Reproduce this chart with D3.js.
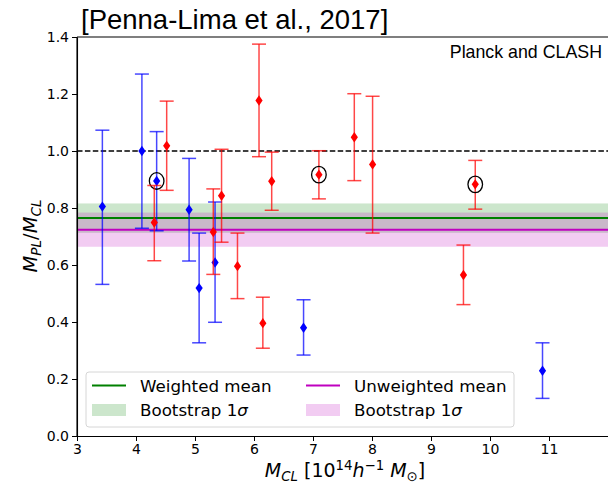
<!DOCTYPE html>
<html>
<head>
<meta charset="utf-8">
<script src="https://cdn.jsdelivr.net/npm/d3@7"></script>
<style>
  html, body { margin: 0; padding: 0; background: #fff; }
  svg { display: block; }
  .tick text { font-family: "DejaVu Sans", sans-serif; font-size: 14px; fill: #000; }
</style>
</head>
<body>
<svg id="chart" width="608" height="486"></svg>
<script>
// CLASH-based masses (blue)
const blueMass = [3.43, 4.10, 4.35, 4.90, 5.07, 5.34, 6.84, 10.89];
const blueRatio = [0.805, 1.000, 0.895, 0.794, 0.519, 0.609, 0.380, 0.229];
const blueLow = [0.532, 0.729, 0.720, 0.614, 0.327, 0.399, 0.284, 0.132];
const blueHigh = [1.073, 1.270, 1.068, 0.974, 0.712, 0.821, 0.478, 0.327];
const blueCircled = [false, false, true, false, false, false, false, false];

// Planck-based masses (red)
const redMass = [4.31, 4.52, 5.31, 5.45, 5.72, 6.085, 6.15, 6.30, 7.10, 7.70, 8.01, 9.55, 9.75];
const redRatio = [0.749, 1.018, 0.716, 0.843, 0.596, 1.177, 0.396, 0.894, 0.917, 1.048, 0.953, 0.565, 0.883];
const redLow = [0.615, 0.862, 0.567, 0.680, 0.482, 0.980, 0.308, 0.792, 0.832, 0.896, 0.712, 0.461, 0.796];
const redHigh = [0.879, 1.175, 0.867, 1.006, 0.712, 1.375, 0.487, 0.996, 1.001, 1.201, 1.192, 0.670, 0.967];
const redCircled = [false, false, false, false, false, false, false, false, true, false, false, false, true];

// Means and bootstrap 1-sigma bands
const weightedMean = 0.765;
const weightedBand = [0.713, 0.816];
const unweightedMean = 0.724;
const unweightedBand = [0.664, 0.784];
const unityRatio = 1.0;

const xTicks = [3, 4, 5, 6, 7, 8, 9, 10, 11];
const yTicks = [0.0, 0.2, 0.4, 0.6, 0.8, 1.0, 1.2, 1.4];
const xDomain = [3, 12];
const yDomain = [0, 1.4];

const svg = d3.select("#chart");
svg.append("rect").attr("width", 608).attr("height", 486).attr("fill", "#fff");

const L = 77, R = 608, T = 37, B = 436;
const x = d3.scaleLinear().domain(xDomain).range([L, R]);
const y = d3.scaleLinear().domain(yDomain).range([B, T]);

const plot = svg.append("g");

// bootstrap bands
function band(r, color) {
  plot.append("rect")
    .attr("x", L).attr("width", R - L)
    .attr("y", y(r[1])).attr("height", y(r[0]) - y(r[1]))
    .attr("fill", color).attr("fill-opacity", 0.2);
}
band(weightedBand, "#008000");
band(unweightedBand, "#bf00bf");

// mean lines
function hline(v, color, width, dash) {
  const l = plot.append("line")
    .attr("x1", L).attr("x2", R)
    .attr("y1", y(v)).attr("y2", y(v))
    .attr("stroke", color).attr("stroke-width", width);
  if (dash) l.attr("stroke-dasharray", dash);
}
hline(weightedMean, "#008000", 2);
hline(unweightedMean, "#bf00bf", 2);
hline(unityRatio, "#000", 1.5, "5.5,2.4");

// error bars with thin diamond markers
function series(xs, ys, lo, hi, circ, color) {
  const g = plot.append("g");
  xs.forEach((xv, i) => {
    const px = x(xv);
    const eg = g.append("g").attr("stroke", color).attr("stroke-opacity", 0.72).attr("stroke-width", 1.5);
    eg.append("line").attr("x1", px).attr("x2", px).attr("y1", y(lo[i])).attr("y2", y(hi[i]));
    [lo[i], hi[i]].forEach(v => {
      eg.append("line").attr("x1", px - 7).attr("x2", px + 7).attr("y1", y(v)).attr("y2", y(v));
    });
  });
  xs.forEach((xv, i) => {
    const px = x(xv), py = y(ys[i]);
    g.append("path")
      .attr("d", `M${px},${py - 5.2}L${px + 3.6},${py}L${px},${py + 5.2}L${px - 3.6},${py}Z`)
      .attr("fill", color);
    if (circ[i]) {
      g.append("ellipse")
        .attr("cx", px).attr("cy", py).attr("rx", 7.3).attr("ry", 8.3)
        .attr("fill", "none").attr("stroke", "#000").attr("stroke-width", 1.3);
    }
  });
}
series(blueMass, blueRatio, blueLow, blueHigh, blueCircled, "#0000ff");
series(redMass, redRatio, redLow, redHigh, redCircled, "#ff0000");

// axes
const xAxis = svg.append("g").attr("transform", `translate(0,${B})`)
  .call(d3.axisBottom(x).tickValues(xTicks).tickFormat(d3.format("d")).tickSize(5).tickPadding(3).tickSizeOuter(0));
const yAxis = svg.append("g").attr("transform", `translate(${L},0)`)
  .call(d3.axisLeft(y).tickValues(yTicks).tickFormat(d3.format(".1f")).tickSize(5).tickPadding(3).tickSizeOuter(0));
[xAxis, yAxis].forEach(a => {
  a.select(".domain").attr("stroke", "#000").attr("stroke-width", 1.1);
  a.selectAll(".tick line").attr("stroke", "#000").attr("stroke-width", 1);
});
svg.append("line").attr("x1", L).attr("x2", R).attr("y1", T).attr("y2", T)
  .attr("stroke", "#000").attr("stroke-width", 1.1);
svg.append("line").attr("x1", L).attr("x2", L).attr("y1", T).attr("y2", B)
  .attr("stroke", "#000").attr("stroke-width", 1.1);

// title and annotation
svg.append("text").attr("x", 81).attr("y", 29)
  .attr("font-family", "Liberation Sans, Arial, sans-serif").attr("font-size", 27.5)
  .text("[Penna-Lima et al., 2017]");
svg.append("text").attr("x", 602).attr("y", 58).attr("text-anchor", "end")
  .attr("font-family", "Liberation Sans, Arial, sans-serif").attr("font-size", 17.8)
  .text("Planck and CLASH");

// axis labels
const font = "DejaVu Sans, sans-serif";
const xl = svg.append("text").attr("x", 345).attr("y", 477).attr("text-anchor", "middle")
  .attr("font-family", font).attr("font-size", 19);
xl.append("tspan").attr("font-style", "italic").text("M");
xl.append("tspan").attr("font-style", "italic").attr("font-size", 13.3).attr("dy", 4).text("CL");
xl.append("tspan").attr("dy", -4).text(" [10");
xl.append("tspan").attr("font-size", 13.3).attr("dy", -7).text("14");
xl.append("tspan").attr("font-style", "italic").attr("dy", 7).text("h");
xl.append("tspan").attr("font-size", 13.3).attr("dy", -7).text("\u22121");
xl.append("tspan").attr("font-style", "italic").attr("dy", 7).text(" M");
xl.append("tspan").attr("font-size", 13.3).attr("dy", 4).text("\u2299");
xl.append("tspan").attr("dy", -4).text("]");

const yl = svg.append("text").attr("transform", "translate(37,236) rotate(-90)")
  .attr("text-anchor", "middle").attr("font-family", font).attr("font-size", 19.5);
yl.append("tspan").attr("font-style", "italic").text("M");
yl.append("tspan").attr("font-style", "italic").attr("font-size", 13.6).attr("dy", 4).text("PL");
yl.append("tspan").attr("dy", -4).text("/");
yl.append("tspan").attr("font-style", "italic").text("M");
yl.append("tspan").attr("font-style", "italic").attr("font-size", 13.6).attr("dy", 4).text("CL");

// legend
const lg = svg.append("g");
lg.append("rect").attr("x", 86).attr("y", 372).attr("width", 428).attr("height", 55)
  .attr("rx", 3).attr("fill", "#fff").attr("fill-opacity", 0.8)
  .attr("stroke", "#d6d6d6").attr("stroke-width", 1);
const entries = [
  { col: 0, row: 0, kind: "line", color: "#008000", label: "Weighted mean" },
  { col: 1, row: 0, kind: "line", color: "#bf00bf", label: "Unweighted mean" },
  { col: 0, row: 1, kind: "patch", color: "#008000", label: "Bootstrap 1" },
  { col: 1, row: 1, kind: "patch", color: "#bf00bf", label: "Bootstrap 1" }
];
const colX = [92, 306], rowY = [385.5, 410];
entries.forEach(e => {
  const hx = colX[e.col], cy = rowY[e.row];
  if (e.kind === "line") {
    lg.append("line").attr("x1", hx).attr("x2", hx + 34).attr("y1", cy).attr("y2", cy)
      .attr("stroke", e.color).attr("stroke-width", 2);
  } else {
    lg.append("rect").attr("x", hx).attr("y", cy - 6).attr("width", 34).attr("height", 12)
      .attr("fill", e.color).attr("fill-opacity", 0.2);
  }
  const t = lg.append("text").attr("x", hx + 48).attr("y", cy + 6)
    .attr("font-family", font).attr("font-size", 16.7).text(e.label);
  if (e.kind === "patch") t.append("tspan").attr("font-style", "italic").text("\u03c3");
});
</script>
</body>
</html>
